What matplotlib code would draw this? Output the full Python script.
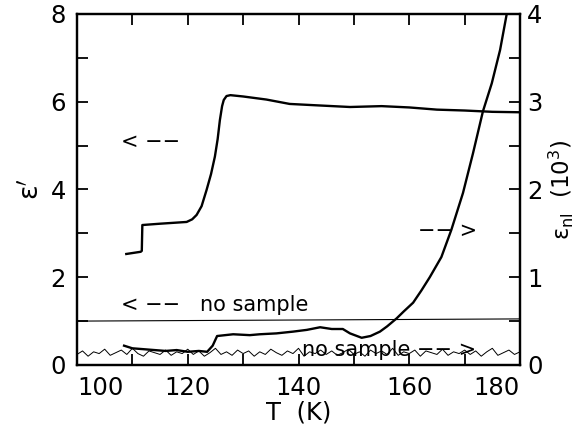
import numpy as np
import matplotlib
matplotlib.use("Agg")
import matplotlib.pyplot as plt
from matplotlib.ticker import MultipleLocator

# ── Data ───────────────────────────────────────────────────────────────────
# eps' (left axis) of the sample
eps_T = [108.9, 111.5, 111.7, 111.8, 115.0, 119.8, 120.8, 121.6, 122.5, 123.4,
         124.2, 124.9, 125.4, 125.8, 126.2, 126.5, 127.0, 127.7, 130.0, 134.2,
         138.4, 143.0, 149.3, 155.0, 160.0, 165.0, 170.0, 175.0, 180.0]
eps_v = [2.53, 2.58, 2.60, 3.19, 3.22, 3.26, 3.32, 3.42, 3.62, 3.99,
         4.35, 4.75, 5.15, 5.58, 5.90, 6.04, 6.13, 6.15, 6.12, 6.05,
         5.95, 5.92, 5.88, 5.90, 5.87, 5.82, 5.80, 5.77, 5.76]

# eps' without sample
empty_T = [100.0, 180.0]
empty_v = [1.00, 1.05]

# eps_nl (right axis, 10^3) of the sample
nl_T = [108.5, 110.0, 112.0, 114.0, 116.0, 118.0, 120.0, 122.0, 123.5, 124.5,
        125.3, 128.2, 131.2, 133.0, 136.0, 139.0, 141.5, 143.9, 146.0, 148.0,
        149.3, 151.4, 153.0, 154.7, 156.0, 157.7, 159.0, 160.7, 162.2, 163.7,
        165.8, 167.6, 169.7, 171.5, 173.3, 174.9, 176.4, 177.6]
nl_v = [0.22, 0.19, 0.18, 0.17, 0.16, 0.17, 0.15, 0.16, 0.15, 0.22,
        0.33, 0.35, 0.34, 0.35, 0.36, 0.38, 0.40, 0.43, 0.41, 0.41,
        0.36, 0.31, 0.33, 0.38, 0.44, 0.53, 0.61, 0.71, 0.85, 1.00,
        1.23, 1.54, 1.96, 2.41, 2.89, 3.21, 3.59, 4.00]

# eps_nl without sample (noise floor)
noise_T = list(range(100, 181))
noise_v = [0.12, 0.16, 0.10, 0.15, 0.13, 0.18, 0.11, 0.14, 0.17, 0.12,
           0.19, 0.13, 0.10, 0.16, 0.14, 0.12, 0.17, 0.11, 0.15, 0.13,
           0.18, 0.12, 0.16, 0.10, 0.14, 0.19, 0.12, 0.15, 0.11, 0.17,
           0.13, 0.16, 0.10, 0.15, 0.12, 0.18, 0.14, 0.11, 0.16, 0.13,
           0.19, 0.10, 0.15, 0.13, 0.17, 0.12, 0.16, 0.11, 0.14, 0.18,
           0.12, 0.15, 0.10, 0.17, 0.13, 0.16, 0.12, 0.19, 0.11, 0.15,
           0.13, 0.17, 0.10, 0.16, 0.14, 0.12, 0.18, 0.11, 0.15, 0.13,
           0.17, 0.12, 0.16, 0.10, 0.15, 0.19, 0.11, 0.14, 0.17, 0.12,
           0.15]

x_ticks = [100, 120, 140, 160, 180]

# ── Figure ──────────────────────────────────────────────────────────────────
fs_tick = 17.5
fs_note = 15

fig = plt.figure(figsize=(5.86, 4.24), dpi=100)
ax = fig.add_axes([0.1314, 0.1392, 0.7560, 0.8278])
ax2 = ax.twinx()

ax.plot(eps_T, eps_v, color='black', lw=1.7, solid_joinstyle='round')
ax.plot(empty_T, empty_v, color='black', lw=0.8)
ax2.plot(nl_T, nl_v, color='black', lw=1.7, solid_joinstyle='round')
ax2.plot(noise_T, noise_v, color='black', lw=0.7)

ax.set_xlim(100, 180)
ax.set_ylim(0, 8)
ax2.set_ylim(0, 4)

ax.set_xticks(x_ticks)
ax.xaxis.set_minor_locator(MultipleLocator(10))
ax.yaxis.set_major_locator(MultipleLocator(2))
ax.yaxis.set_minor_locator(MultipleLocator(1))
ax2.yaxis.set_major_locator(MultipleLocator(1))
ax2.yaxis.set_minor_locator(MultipleLocator(0.5))

for a in (ax, ax2):
    for sp in a.spines.values():
        sp.set_linewidth(1.6)

ax.tick_params(which='both', direction='in', length=8, width=1.3,
               top=True, right=False, labelsize=fs_tick, pad=8)
ax2.tick_params(which='both', direction='in', length=8, width=1.3,
                left=False, labelsize=fs_tick, pad=5)

xl = ax.get_xticklabels()
xl[0].set_ha('left')
xl[-1].set_ha('right')

ax.set_xlabel('T  (K)', fontsize=fs_tick, labelpad=0)
ax.set_ylabel("ε$'$", fontsize=fs_tick + 2, labelpad=4)
ax2.set_ylabel(r'ε$_{\mathrm{nl}}$  (10$^3$)', fontsize=fs_tick - 1, labelpad=3)

# annotations
ax.text(107.9, 5.08, '< −−', fontsize=fs_note, va='center', ha='left')
ax.text(107.9, 1.37, '< −−   no sample', fontsize=fs_note, va='center', ha='left')
ax.text(161.5, 3.06, '−− >', fontsize=fs_note, va='center', ha='left')
ax.text(140.6, 0.34, 'no sample −− >', fontsize=fs_note, va='center', ha='left')

fig.savefig('out.png', dpi=100)
